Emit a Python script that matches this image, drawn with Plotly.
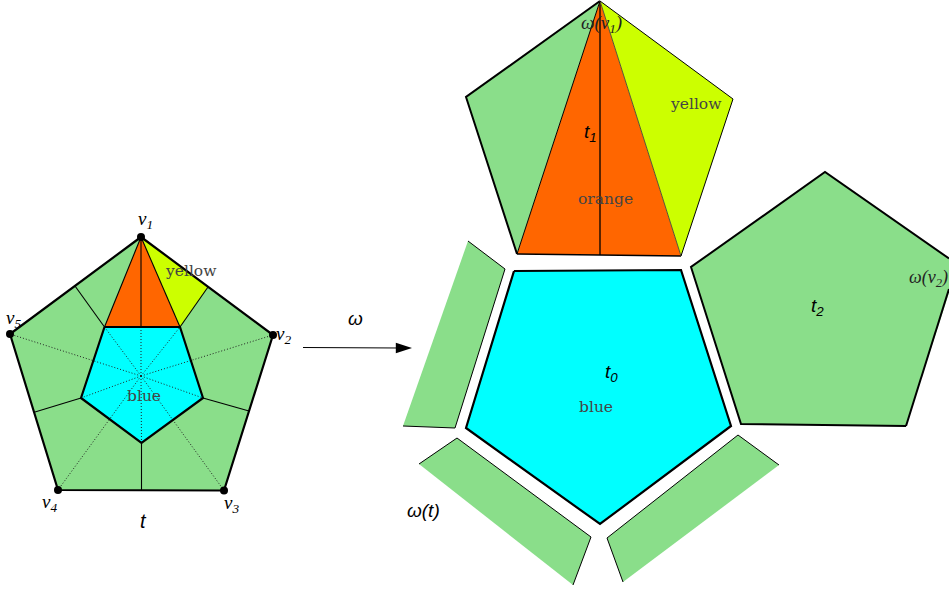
import plotly.graph_objects as go

GREEN = "#8ade8a"
CYAN = "#00ffff"
ORANGE = "#ff6600"
YELLOW = "#ccff00"

# left pentagon
v1, v2, v3, v4, v5 = (141, 237), (273, 335), (224, 490.5), (58, 490), (10, 334)
i_tl, i_tr, i_r, i_b, i_l = (104.5, 327), (180, 327), (203, 398), (141.5, 443), (81, 398)
center = (141, 376)
m12, m23, m34, m45, m51 = (208, 287), (249, 411), (141.5, 490), (35, 412), (75, 286)
im_t = (141, 327)

# right unfolded pieces
a, b_l, b_r, p_l, p_r = (600, 1), (517, 254), (681, 256), (466, 97), (733, 99)
blue_pent = [(514, 271), (681, 270), (731, 426), (600, 524), (466, 428)]
green_pent = [(825, 172), (958, 265), (906, 426), (741, 424), (691, 267)]
strip_l = [(468, 241), (505, 269), (455, 428), (403, 426)]
strip_bl = [(457, 438), (591, 537), (573, 585), (419, 464)]
strip_br = [(738, 435), (779, 465), (623, 582), (607, 538)]

fig = go.Figure()


def poly(points, fill):
    fig.add_trace(go.Scatter(
        x=[p[0] for p in points] + [points[0][0]],
        y=[p[1] for p in points] + [points[0][1]],
        mode="lines", fill="toself", fillcolor=fill,
        line=dict(width=0), hoverinfo="skip", showlegend=False))


def line(points, width=1.0, dash="solid", color="#000000"):
    fig.add_trace(go.Scatter(
        x=[p[0] for p in points], y=[p[1] for p in points],
        mode="lines", line=dict(width=width, color=color, dash=dash),
        hoverinfo="skip", showlegend=False))


# fills
poly([v1, v2, v3, v4, v5], GREEN)
poly([i_tl, i_tr, i_r, i_b, i_l], CYAN)
poly([v1, i_tl, i_tr], ORANGE)
poly([v1, i_tr, m12], YELLOW)
poly([a, p_l, b_l], GREEN)
poly([a, b_l, b_r], ORANGE)
poly([a, b_r, p_r], YELLOW)
poly(blue_pent, CYAN)
poly(green_pent, GREEN)
poly(strip_l, GREEN)
poly(strip_bl, GREEN)
poly(strip_br, GREEN)

# left: dotted spokes
for p in [v2, v3, v4, v5, im_t, i_tl, i_tr, i_r, i_b, i_l]:
    line([center, p], 1.0, "1px,2px", "#222222")
# left: thin lines
for p, q in [(m51, i_tl), (m12, i_tr), (m23, i_r), (m45, i_l), (m34, i_b),
             (v1, i_tl), (v1, i_tr), (v1, im_t)]:
    line([p, q], 1.1)
# left: thick outlines
line([i_tl, i_tr, i_r, i_b, i_l, i_tl], 2.2)
line([v1, v2, v3, v4, v5, v1], 2.2)
fig.add_trace(go.Scatter(
    x=[p[0] for p in [v1, v2, v3, v4, v5]], y=[p[1] for p in [v1, v2, v3, v4, v5]],
    mode="markers", marker=dict(size=8, color="#000000"),
    hoverinfo="skip", showlegend=False))

# right outlines
line([a, p_l, b_l], 2)
line([a, b_l], 1)
line([a, (600, 255)], 1.3)
line([b_l, b_r], 1.5)
line([a, b_r], 1, color="#555533")
line([a, p_r, b_r], 1)
line(blue_pent + [blue_pent[0]], 2.2)
line([(949, 258.5), green_pent[0], green_pent[4], green_pent[3], green_pent[2]], 2)
line([green_pent[2], (949, 289)], 2)
line([strip_l[0], strip_l[1], strip_l[2], strip_l[3]], 1)
line([strip_bl[3], strip_bl[0], strip_bl[1], strip_bl[2]], 1)
line([strip_br[3], strip_br[0], strip_br[1]], 1)
line([strip_br[3], strip_br[2]], 1)
line([(303, 347.5), (400, 348)], 1)
fig.add_trace(go.Scatter(
    x=[412], y=[348], mode="markers",
    marker=dict(symbol="arrow", angle=90, size=17, color="#000000", line=dict(width=0)),
    hoverinfo="skip", showlegend=False))

ann = [
    (145, 220, "<i>v<sub>1</sub></i>", "Liberation Serif", 19, "#000"),
    (283, 335, "<i>v<sub>2</sub></i>", "Liberation Serif", 19, "#000"),
    (231, 504, "<i>v<sub>3</sub></i>", "Liberation Serif", 19, "#000"),
    (49, 503, "<i>v<sub>4</sub></i>", "Liberation Serif", 19, "#000"),
    (13, 319, "<i>v<sub>5</sub></i>", "Liberation Serif", 19, "#000"),
    (143, 521, "<i>t</i>", "Liberation Sans", 20, "#000"),
    (355, 318, "<i>ω</i>", "Liberation Sans", 19, "#000"),
    (423, 510, "<i>ω(t)</i>", "Liberation Sans", 19, "#000"),
    (590, 133, "<i>t<sub>1</sub></i>", "Liberation Sans", 19, "#000"),
    (817, 307, "<i>t<sub>2</sub></i>", "Liberation Sans", 19, "#000"),
    (611, 373, "<i>t<sub>0</sub></i>", "Liberation Sans", 19, "#000"),
    (601, 24, "<i>ω(v<sub>1</sub>)</i>", "Liberation Serif", 19, "#222"),
    (928, 278, "<i>ω(v<sub>2</sub>)</i>", "Liberation Serif", 18, "#222"),
    (191, 271, "yellow", "DejaVu Serif", 15.5, "#444"),
    (144, 396, "blue", "DejaVu Serif", 15.5, "#444"),
    (696, 104, "yellow", "DejaVu Serif", 15.5, "#444"),
    (605, 199, "orange", "DejaVu Serif", 15.5, "#444"),
    (596, 407, "blue", "DejaVu Serif", 15.5, "#444"),
]
for x, y, t, f, s, c in ann:
    fig.add_annotation(x=x, y=y, text=t, showarrow=False, xanchor="center", yanchor="middle",
                       font=dict(family=f, size=s, color=c))

fig.update_layout(
    width=949, height=590, margin=dict(l=0, r=0, t=0, b=0),
    paper_bgcolor="#ffffff", plot_bgcolor="#ffffff", showlegend=False,
    xaxis=dict(range=[0, 949], visible=False, fixedrange=True),
    yaxis=dict(range=[590, 0], visible=False, fixedrange=True),
)
fig.write_html("out.html", post_script="document.body.style.margin='0';", config={"displayModeBar": False})
